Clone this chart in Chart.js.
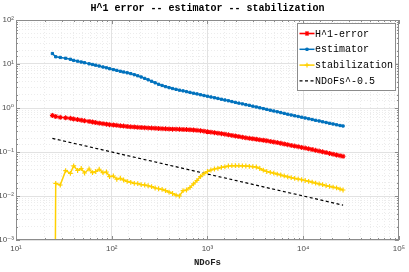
<!DOCTYPE html>
<html><head><meta charset="utf-8">
<script src="https://cdn.jsdelivr.net/npm/chart.js@4/dist/chart.umd.min.js"></script>
<style>html,body{margin:0;padding:0;background:#fff;}canvas{display:block;}</style>
</head><body>
<canvas id="c" width="409" height="272"></canvas>
<script>
// ---- data ----
const nDofs = [24, 26, 29, 33, 37, 40, 44, 48, 52, 58, 63, 68, 74, 81, 88, 95, 104, 113, 123, 133,
  145, 158, 172, 187, 203, 221, 240, 261, 284, 309, 336, 365, 397, 432, 470, 511, 556, 604, 657, 715,
  777, 846, 920, 1000, 1087, 1183, 1286, 1399, 1521, 1655, 1800, 1957, 2129, 2315, 2518, 2738, 2978, 3239, 3522, 3831,
  4166, 4531, 4928, 5359, 5828, 6339, 6894, 7499, 8155, 8869, 9646, 10491, 11409, 12408, 13495, 14678, 15963, 17361, 18881, 20535,
  22334, 24290, 26100];
const h1Error = [0.676, 0.641, 0.615, 0.598, 0.583, 0.562, 0.545, 0.528, 0.512, 0.496,
  0.481, 0.466, 0.452, 0.440, 0.429, 0.417, 0.411, 0.403, 0.394, 0.388,
  0.380, 0.374, 0.370, 0.364, 0.360, 0.357, 0.353, 0.349, 0.346, 0.342,
  0.339, 0.337, 0.333, 0.331, 0.330, 0.327, 0.325, 0.323, 0.320, 0.316,
  0.311, 0.305, 0.297, 0.289, 0.282, 0.275, 0.268, 0.261, 0.254, 0.246,
  0.238, 0.231, 0.224, 0.217, 0.210, 0.205, 0.200, 0.195, 0.189, 0.185,
  0.180, 0.174, 0.169, 0.164, 0.158, 0.152, 0.147, 0.141, 0.136, 0.132,
  0.127, 0.123, 0.118, 0.114, 0.109, 0.105, 0.101, 0.0969, 0.0929, 0.0891,
  0.0855, 0.0824, 0.0798];
const estimator = [17.3, 14.6, 14.1, 13.5, 12.8, 12.1, 11.6, 11.1, 10.7, 10.1,
  9.75, 9.39, 9.0, 8.55, 8.2, 7.82, 7.46, 7.16, 6.83, 6.58,
  6.31, 6.05, 5.71, 5.40, 5.07, 4.71, 4.38, 4.05, 3.74, 3.46,
  3.25, 3.06, 2.91, 2.77, 2.65, 2.54, 2.45, 2.35, 2.26, 2.17,
  2.09, 2.00, 1.92, 1.85, 1.78, 1.71, 1.65, 1.58, 1.52, 1.46,
  1.40, 1.34, 1.29, 1.24, 1.19, 1.15, 1.10, 1.055, 1.01, 0.969,
  0.929, 0.891, 0.855, 0.820, 0.786, 0.754, 0.723, 0.693, 0.665, 0.641,
  0.618, 0.593, 0.569, 0.548, 0.525, 0.507, 0.486, 0.468, 0.449, 0.433,
  0.415, 0.400, 0.390];
const stabilization = [1e-15, 0.0194, 0.0178, 0.0376, 0.0328, 0.0486, 0.0380, 0.0422, 0.0333, 0.0411,
  0.0339, 0.0360, 0.0405, 0.0339, 0.0351, 0.0277, 0.0285, 0.0240, 0.0253, 0.0231,
  0.0214, 0.0205, 0.0194, 0.0192, 0.0182, 0.0178, 0.0171, 0.0163, 0.0152, 0.0146,
  0.0141, 0.0133, 0.0123, 0.0114, 0.0105, 0.0100, 0.0132, 0.0137, 0.0156, 0.0188,
  0.0225, 0.0277, 0.0324, 0.0360, 0.0390, 0.0411, 0.0426, 0.0445, 0.0461, 0.0481,
  0.0489, 0.0489, 0.0489, 0.0486, 0.0481, 0.0473, 0.0463, 0.0456, 0.0422, 0.0386,
  0.0360, 0.0346, 0.0330, 0.0315, 0.0300, 0.0286, 0.0273, 0.0262, 0.0251, 0.0243,
  0.0234, 0.0225, 0.0216, 0.0206, 0.0196, 0.0188, 0.0181, 0.0172, 0.0165, 0.0159,
  0.0153, 0.0144, 0.0137];
const refN = [24, 26100];
const refRate = [0.204, 0.0062];
const chartTitle = 'H^1 error -- estimator -- stabilization';
const seriesLabels = ['H^1-error', 'estimator', 'stabilization', 'NDoFs^-0.5'];
const xTickLabels = {1: '10¹', 2: '10²', 3: '10³', 4: '10⁴', 5: '10⁵'};
const yTickLabels = {'-3': '10⁻³', '-2': '10⁻²', '-1': '10⁻¹', '0': '10⁰', '1': '10¹', '2': '10²'};

function isMajor(v) { const e = Math.log10(v); return Math.abs(e - Math.round(e)) < 1e-6; }
function pts(xs, ys) { return xs.map((x, i) => ({x: x, y: ys[i]})); }

const frame = {
  id: 'frame',
  afterDatasetsDraw(chart) {
    const {ctx, chartArea: a, scales: {x, y}} = chart;
    ctx.save();
    ctx.strokeStyle = '#8c8c8c';
    ctx.lineWidth = 1;
    ctx.beginPath();
    x.ticks.forEach(t => {
      const px = Math.round(x.getPixelForValue(t.value)) + 0.5;
      const len = isMajor(t.value) ? 4 : 2;
      ctx.moveTo(px, a.bottom); ctx.lineTo(px, a.bottom - len);
      ctx.moveTo(px, a.top); ctx.lineTo(px, a.top + len);
    });
    y.ticks.forEach(t => {
      const py = Math.round(y.getPixelForValue(t.value)) + 0.5;
      const len = isMajor(t.value) ? 4 : 2;
      ctx.moveTo(a.left, py); ctx.lineTo(a.left + len, py);
      ctx.moveTo(a.right, py); ctx.lineTo(a.right - len, py);
    });
    ctx.stroke();
    ctx.strokeRect(Math.round(a.left) + 0.5, Math.round(a.top) + 0.5,
      Math.round(a.right - a.left) - 1, Math.round(a.bottom - a.top) - 1);
    ctx.restore();
  },
  afterDraw(chart) {
    const {ctx, chartArea: a} = chart;
    ctx.save();
    // title centred over the axes
    ctx.fillStyle = '#000';
    ctx.font = 'bold 10px "Liberation Mono", monospace';
    ctx.textAlign = 'center';
    ctx.textBaseline = 'middle';
    ctx.fillText(chartTitle, (a.left + a.right) / 2, 8);
    // legend inside the axes
    const bx = Math.round(a.right - 102) + 0.5, by = Math.round(a.top + 3) + 0.5, bw = 98, bh = 67;
    ctx.fillStyle = '#fff';
    ctx.fillRect(bx, by, bw, bh);
    ctx.strokeStyle = '#8c8c8c';
    ctx.lineWidth = 1;
    ctx.strokeRect(bx, by, bw, bh);
    chart.data.datasets.forEach((ds, i) => {
      const cy = by + 10 + 15.8 * i;
      ctx.save();
      ctx.strokeStyle = ds.borderColor;
      ctx.lineWidth = ds.borderWidth;
      ctx.setLineDash(ds.borderDash || []);
      ctx.beginPath(); ctx.moveTo(bx + 2, cy); ctx.lineTo(bx + 17, cy); ctx.stroke();
      ctx.setLineDash([]);
      if (ds.pointRadius > 0) {
        ctx.fillStyle = ds.pointBackgroundColor; ctx.strokeStyle = ds.pointBorderColor;
        ctx.lineWidth = ds.pointBorderWidth;
        Chart.helpers.drawPoint(ctx, {pointStyle: ds.pointStyle, radius: ds.pointRadius,
          borderWidth: ds.pointBorderWidth, rotation: 0}, bx + 9.5, cy);
      }
      ctx.restore();
      ctx.fillStyle = '#000';
      ctx.font = '10px "Liberation Mono", monospace';
      ctx.textBaseline = 'middle';
      ctx.textAlign = 'left';
      ctx.fillText(ds.label, bx + 17.5, cy + 0.5);
    });
    ctx.restore();
  }
};

const gridOpts = {
  color: ctx => (ctx.tick && isMajor(ctx.tick.value)) ? '#e2e2e2' : '#ececec',
  lineWidth: 1,
  drawTicks: false,
  tickLength: 0
};
const borderOpts = {display: false, dash: ctx => (ctx.tick && isMajor(ctx.tick.value)) ? [] : [1, 2]};
const tickFont = {family: '"Liberation Sans", "DejaVu Sans", sans-serif', size: 8};

new Chart(document.getElementById('c'), {
  type: 'line',
  data: {
    datasets: [
      {label: seriesLabels[0], data: pts(nDofs, h1Error), borderColor: '#ff0000', backgroundColor: '#ff0000',
        borderWidth: 1.6, pointStyle: 'star', pointRadius: 2.5, pointBorderWidth: 1.1,
        pointBorderColor: '#ff0000', pointBackgroundColor: '#ff0000', tension: 0},
      {label: seriesLabels[1], data: pts(nDofs, estimator), borderColor: '#0072bd', backgroundColor: '#0072bd',
        borderWidth: 1.5, pointStyle: 'rect', pointRadius: 1.6, pointBorderWidth: 1,
        pointBorderColor: '#0072bd', pointBackgroundColor: '#0072bd', tension: 0},
      {label: seriesLabels[2], data: pts(nDofs, stabilization), borderColor: '#ffd000', backgroundColor: '#ffd000',
        borderWidth: 1.5, pointStyle: 'cross', pointRadius: 2.4, pointBorderWidth: 1.2,
        pointBorderColor: '#ffd000', pointBackgroundColor: '#ffd000', tension: 0},
      {label: seriesLabels[3], data: pts(refN, refRate), borderColor: '#000000', backgroundColor: '#000000',
        borderWidth: 1.2, borderDash: [3, 2.5], pointRadius: 0, pointBorderWidth: 0,
        pointStyle: 'circle', tension: 0}
    ]
  },
  options: {
    responsive: false,
    animation: false,
    devicePixelRatio: 1,
    layout: {padding: {left: 0, right: 9, top: 20, bottom: 0}},
    plugins: {
      legend: {display: false},
      tooltip: {enabled: false},
      title: {display: false}
    },
    scales: {
      x: {
        type: 'logarithmic', position: 'bottom', min: 10, max: 100000,
        grid: gridOpts, border: borderOpts,
        ticks: {autoSkip: false, maxRotation: 0, minRotation: 0, padding: 4, color: '#4d4d4d', font: tickFont,
          callback: v => isMajor(v) ? xTickLabels[Math.round(Math.log10(v))] : ''},
        title: {display: true, text: 'NDoFs', color: '#222',
          font: {family: '"Liberation Mono", monospace', size: 9, weight: 'bold'}, padding: {top: 0, bottom: 4}},
        afterFit: s => { s.height = 32; }
      },
      y: {
        type: 'logarithmic', position: 'left', min: 0.001, max: 100,
        grid: gridOpts, border: borderOpts,
        ticks: {autoSkip: false, padding: 2, color: '#4d4d4d', font: tickFont,
          callback: v => isMajor(v) ? yTickLabels[String(Math.round(Math.log10(v)))] : ''},
        afterFit: s => { s.width = 16; }
      }
    }
  },
  plugins: [frame]
});
</script>
</body></html>
